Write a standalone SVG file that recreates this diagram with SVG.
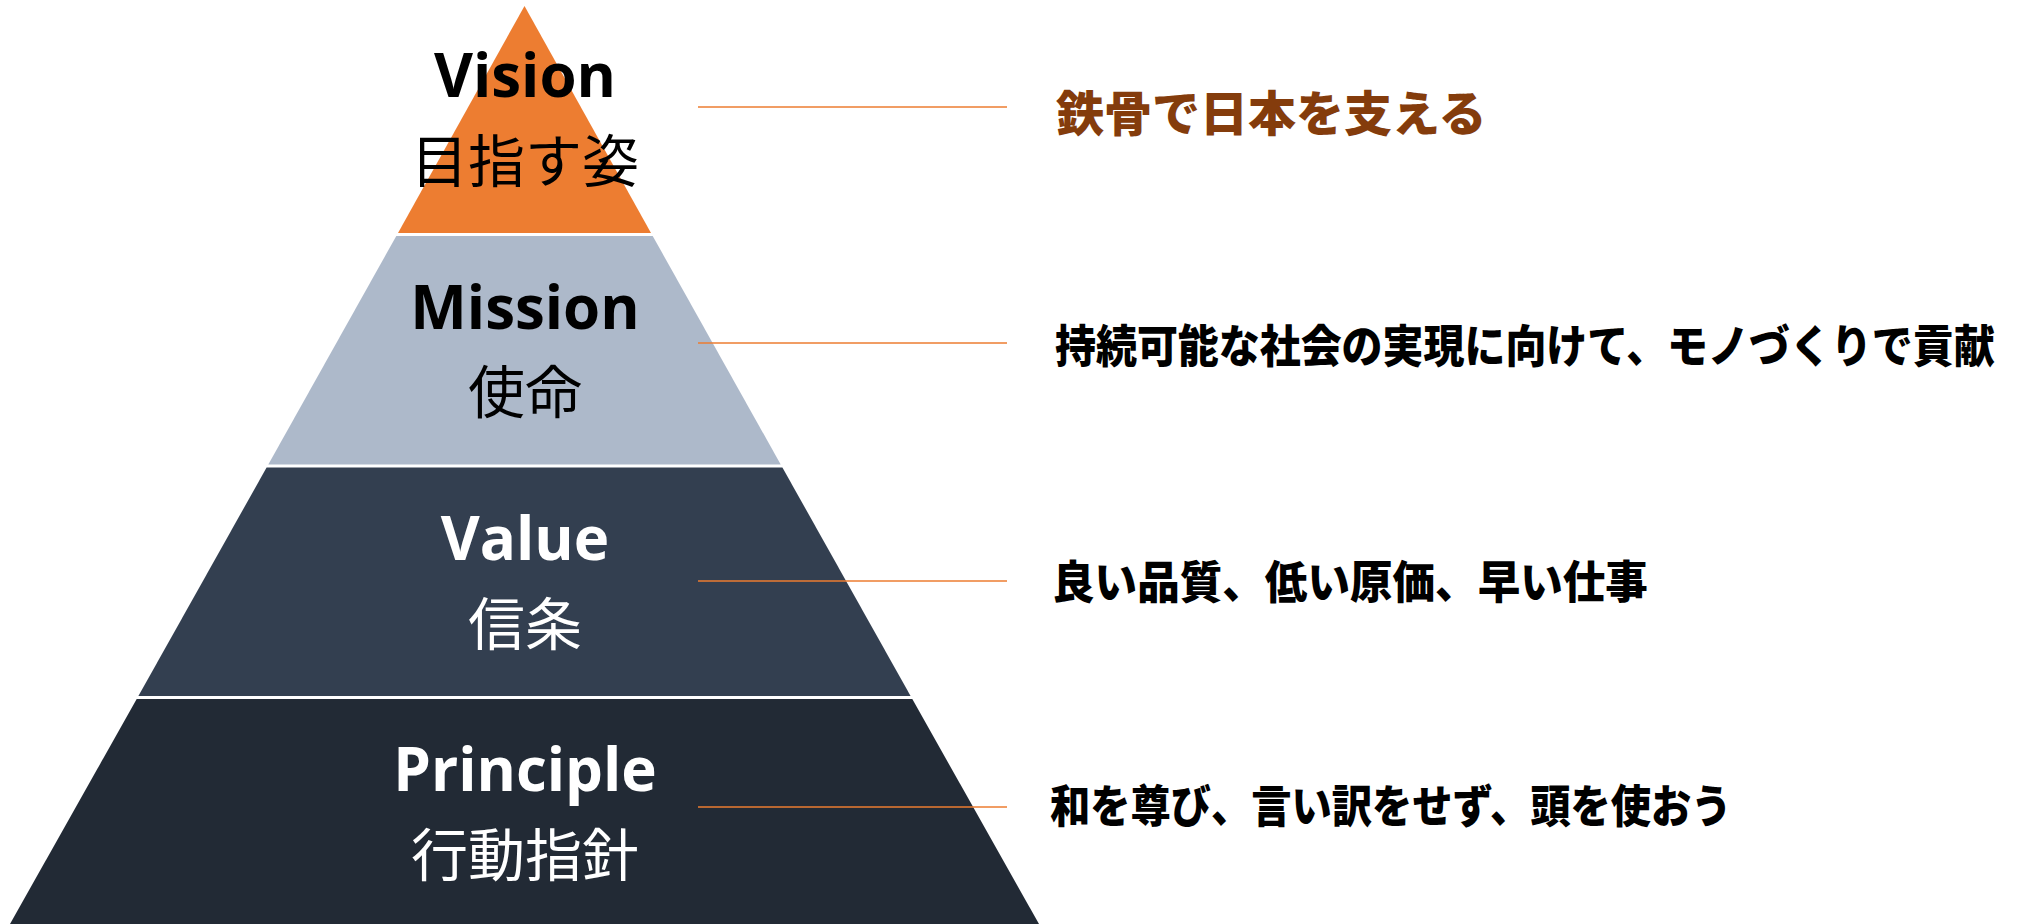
<svg xmlns="http://www.w3.org/2000/svg" width="2024" height="924" viewBox="0 0 2024 924">
<style>
.lat{font-family:"Open Sans","DejaVu Sans",sans-serif;font-weight:700;font-size:60px;text-anchor:middle}
.jp{font-family:"Noto Sans CJK JP","Noto Sans",sans-serif;font-size:57px;text-anchor:middle}
.rt{font-family:"Noto Sans CJK JP","Noto Sans",sans-serif;font-weight:900;font-size:45px}
.dk{fill:#000000}
.wh{fill:#FFFFFF}
.conn{stroke:#ED7D31;stroke-width:1.6;fill:none}
</style>
<rect width="2024" height="924" fill="#FFFFFF"/>
<g id="vision">
<polygon points="524.5,6 651,233 398,233" fill="#ED7D31"/>
<text class="lat dk" x="525" y="97">Vision</text>
<text class="jp dk" x="525" y="182">目指す姿</text>
</g>
<g id="mission">
<polygon points="396.3,236 652.7,236 780.7,464.5 268.3,464.5" fill="#ADB9CA"/>
<text class="lat dk" x="525" y="329">Mission</text>
<text class="jp dk" x="525" y="413">使命</text>
</g>
<g id="value">
<polygon points="266.6,467.5 782.4,467.5 910.6,696 138.4,696" fill="#333F50"/>
<text class="lat wh" x="525" y="560">Value</text>
<text class="jp wh" x="525" y="645">信条</text>
</g>
<g id="principle">
<polygon points="136.7,699 912.3,699 1039,924 10,924" fill="#222A35"/>
<text class="lat wh" x="525" y="791">Principle</text>
<text class="jp wh" x="525" y="876">行動指針</text>
</g>
<g id="connectors">
<line class="conn" x1="698" y1="107" x2="1007" y2="107"/>
<line class="conn" x1="698" y1="343" x2="1007" y2="343"/>
<line class="conn" x1="698" y1="581" x2="1007" y2="581"/>
<line class="conn" x1="698" y1="807" x2="1007" y2="807"/>
</g>
<g id="vision-text">
<text class="rt" x="1056" y="131" style="font-size:48px;fill:#843C0C">鉄骨で日本を支える</text>
</g>
<g id="mission-text" transform="translate(1055,363) scale(0.91,1)">
<text class="rt" x="0" y="0" fill="#000000">持続可能な社会の実現に向けて、モノづくりで貢献</text>
</g>
<g id="value-text" transform="translate(1052,599) scale(0.946,1)">
<text class="rt" x="0" y="0" fill="#000000">良い品質、低い原価、早い仕事</text>
</g>
<g id="principle-text" transform="translate(1050,823) scale(0.895,1)">
<text class="rt" x="0" y="0" fill="#000000">和を尊び、言い訳をせず、頭を使おう</text>
</g>
</svg>
